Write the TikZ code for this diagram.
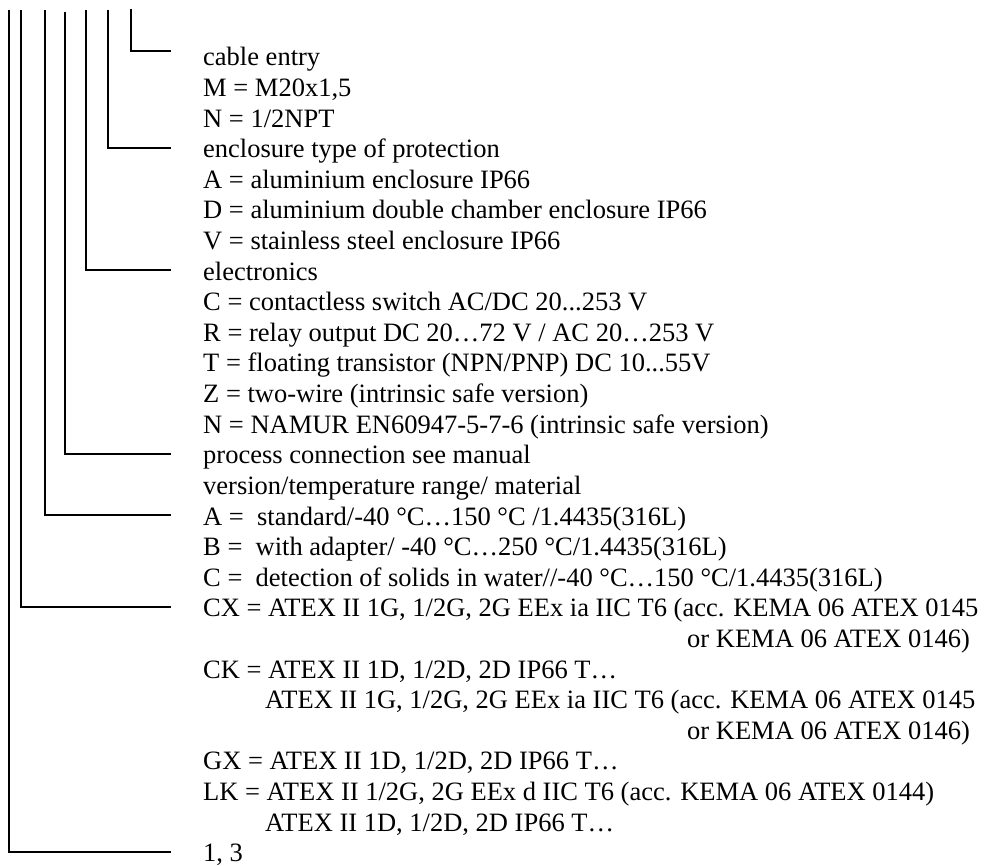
\documentclass[tikz,border=0pt]{standalone}
\usepackage{fontspec}
\setmainfont{Liberation Serif}
\tikzset{
  txt/.style={anchor=base west, inner sep=0pt, font=\fontsize{26.5}{30}\selectfont},
  stub/.style={line width=2.4pt, line cap=butt, line join=miter}
}
\begin{document}
\begin{tikzpicture}[x=1pt,y=-1pt]
\useasboundingbox (0,0) rectangle (996,866);
% tops of the vertical lines
\coordinate (t1) at (9,10);
\coordinate (t2) at (21,10);
\coordinate (t3) at (45,10);
\coordinate (t4) at (65,12);
\coordinate (t5) at (86,10);
\coordinate (t6) at (108,10);
\coordinate (t7) at (131,9);
% ends of the horizontal stubs
\coordinate (e1) at (171,852);
\coordinate (e2) at (171,607);
\coordinate (e3) at (171,515);
\coordinate (e4) at (171,454);
\coordinate (e5) at (171,270);
\coordinate (e6) at (171,148);
\coordinate (e7) at (171,51);
\draw[stub] (t1) |- (e1);
\draw[stub] (t2) |- (e2);
\draw[stub] (t3) |- (e3);
\draw[stub] (t4) |- (e4);
\draw[stub] (t5) |- (e5);
\draw[stub] (t6) |- (e6);
\draw[stub] (t7) |- (e7);
% text
\node[txt] (r0)  at (203,{66+30.6*0})  {cable entry};
\node[txt] (r1)  at (203,{66+30.6*1})  {M = M20x1,5};
\node[txt] (r2)  at (203,{66+30.6*2})  {N = 1/2NPT};
\node[txt] (r3)  at (203,{66+30.6*3})  {enclosure type of protection};
\node[txt] (r4)  at (203,{66+30.6*4})  {A = aluminium enclosure IP66};
\node[txt] (r5)  at (203,{66+30.6*5})  {D = aluminium double chamber enclosure IP66};
\node[txt] (r6)  at (203,{66+30.6*6})  {V = stainless steel enclosure IP66};
\node[txt] (r7)  at (203,{66+30.6*7})  {electronics};
\node[txt] (r8)  at (203,{66+30.6*8})  {C = contactless switch AC/DC 20...253 V};
\node[txt] (r9)  at (203,{66+30.6*9})  {R = relay output DC 20…72 V / AC 20…253 V};
\node[txt] (r10) at (203,{66+30.6*10}) {T = floating transistor (NPN/PNP) DC 10...55V};
\node[txt] (r11) at (203,{66+30.6*11}) {Z = two-wire (intrinsic safe version)};
\node[txt] (r12) at (203,{66+30.6*12}) {N = NAMUR EN60947-5-7-6 (intrinsic safe version)};
\node[txt] (r13) at (203,{66+30.6*13}) {process connection see manual};
\node[txt] (r14) at (203,{66+30.6*14}) {version/temperature range/ material};
\node[txt] (r15) at (203,{66+30.6*15}) {A = \ standard/-40 °C…150 °C /1.4435(316L)};
\node[txt] (r16) at (203,{66+30.6*16}) {B = \ with adapter/ -40 °C…250 °C/1.4435(316L)};
\node[txt] (r17) at (203,{66+30.6*17}) {C = \ detection of solids in water//-40 °C…150 °C/1.4435(316L)};
\node[txt] (r18) at (203,{66+30.6*18}) {CX = ATEX II 1G, 1/2G, 2G EEx ia IIC T6 (acc. KEMA 06 ATEX 0145};
\node[txt] (r19) at (687,{66+30.6*19}) {or KEMA 06 ATEX 0146)};
\node[txt] (r20) at (203,{66+30.6*20}) {CK = ATEX II 1D, 1/2D, 2D IP66 T…};
\node[txt] (r21) at (265,{66+30.6*21}) {ATEX II 1G, 1/2G, 2G EEx ia IIC T6 (acc. KEMA 06 ATEX 0145};
\node[txt] (r22) at (687,{66+30.6*22}) {or KEMA 06 ATEX 0146)};
\node[txt] (r23) at (203,{66+30.6*23}) {GX = ATEX II 1D, 1/2D, 2D IP66 T…};
\node[txt] (r24) at (203,{66+30.6*24}) {LK = ATEX II 1/2G, 2G EEx d IIC T6 (acc. KEMA 06 ATEX 0144)};
\node[txt] (r25) at (265,{66+30.6*25}) {ATEX II 1D, 1/2D, 2D IP66 T…};
\node[txt] (r26) at (203,{66+30.6*26}) {1, 3};
\end{tikzpicture}
\end{document}
